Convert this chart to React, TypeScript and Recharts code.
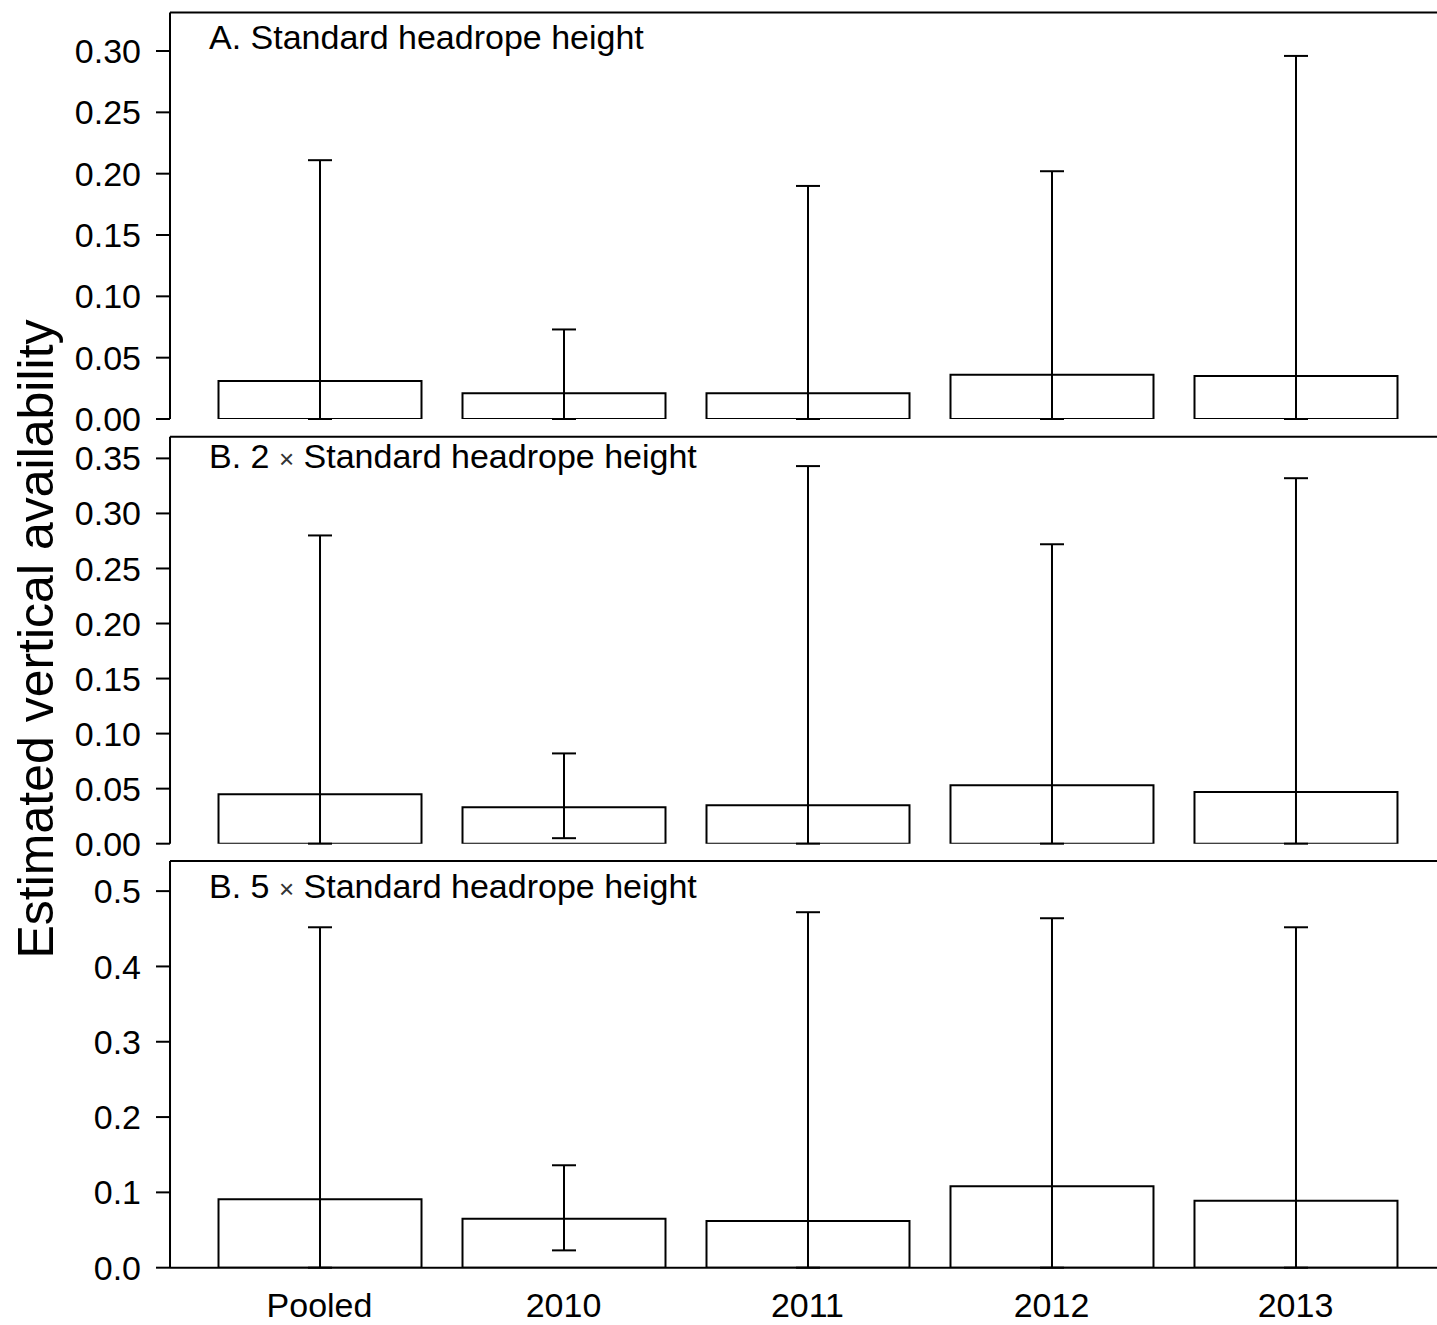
import React from 'react';
import { BarChart, Bar, XAxis, YAxis, ErrorBar, ReferenceLine } from 'recharts';

const categories = ['Pooled', '2010', '2011', '2012', '2013'];

const estA = [0.031, 0.021, 0.021, 0.036, 0.035];
const lowA = [0, 0, 0, 0, 0];
const highA = [0.211, 0.073, 0.19, 0.202, 0.296];

const estB = [0.045, 0.033, 0.035, 0.053, 0.047];
const lowB = [0, 0.005, 0, 0, 0];
const highB = [0.28, 0.082, 0.343, 0.272, 0.332];

const estC = [0.091, 0.065, 0.062, 0.108, 0.089];
const lowC = [0, 0.023, 0, 0, 0];
const highC = [0.452, 0.136, 0.472, 0.464, 0.452];

const ticksA = [0, 0.05, 0.1, 0.15, 0.2, 0.25, 0.3];
const ticksB = [0, 0.05, 0.1, 0.15, 0.2, 0.25, 0.3, 0.35];
const ticksC = [0, 0.1, 0.2, 0.3, 0.4, 0.5];

const titleA = 'A. Standard headrope height';
const titleB = ['B. 2', '×', 'Standard headrope height'];
const titleC = ['B. 5', '×', 'Standard headrope height'];
const yLabel = 'Estimated vertical availability';

const build = (est: number[], lo: number[], hi: number[]) =>
  categories.map((c, i) => ({ cat: c, v: est[i], e: [est[i] - lo[i], hi[i] - est[i]] }));

const FONT = '"Liberation Sans", Arial, sans-serif';
const INK = '#000';

type PanelProps = {
  data: any[];
  ticks: number[];
  max: number;
  digits: number;
  top: number;
  marginTop: number;
  height: number;
  showX: boolean;
};

const XTick = (props: any) => {
  const { x, y, payload } = props;
  return (
    <text x={x} y={y} dy="0.71em" textAnchor="middle" fontSize={34} fill={INK} fontFamily={FONT}>
      {payload.value}
    </text>
  );
};

const Panel = ({ data, ticks, max, digits, top, marginTop, height, showX }: PanelProps) => (
  <div style={{ position: 'absolute', left: 0, top }}>
    <BarChart
      width={1460}
      height={height}
      data={data}
      margin={{ top: marginTop, right: 15, bottom: showX ? 0 : 24, left: 0 }}
      style={{ overflow: 'visible' }}
    >
      <XAxis
        dataKey="cat"
        padding={{ left: 27.5, right: 27.5 }}
        axisLine={{ stroke: INK, strokeWidth: 2 }}
        tickLine={false}
        tickSize={0}
        tickMargin={25}
        height={showX ? 57 : 0}
        tick={showX ? <XTick /> : false}
        interval={0}
      />
      <YAxis
        width={170}
        domain={[0, max]}
        ticks={ticks}
        interval={0}
        allowDataOverflow
        tickFormatter={(v: number) => v.toFixed(digits)}
        axisLine={{ stroke: INK, strokeWidth: 2 }}
        tickLine={{ stroke: INK, strokeWidth: 2 }}
        tickSize={14}
        tickMargin={15}
        tick={{ fontSize: 34, fill: INK, fontFamily: FONT }}
      />
      <ReferenceLine y={max} stroke={INK} strokeWidth={2} ifOverflow="visible" />
      <Bar dataKey="v" fill="#fff" stroke={INK} strokeWidth={2} barSize={203} isAnimationActive={false}>
        <ErrorBar dataKey="e" width={12} stroke={INK} strokeWidth={2} direction="y" isAnimationActive={false} />
      </Bar>
    </BarChart>
  </div>
);

export default function App() {
  return (
    <div
      style={{
        position: 'absolute',
        left: 0,
        top: 0,
        width: 1437,
        height: 1325,
        overflow: 'hidden',
        background: '#fff',
        fontFamily: FONT,
      }}
    >
      <Panel data={build(estA, lowA, highA)} ticks={ticksA} max={0.3314} digits={2} top={0} marginTop={12.5} height={443} showX={false} />
      <Panel data={build(estB, lowB, highB)} ticks={ticksB} max={0.3697} digits={2} top={430} marginTop={6.7} height={437.7} showX={false} />
      <Panel data={build(estC, lowC, highC)} ticks={ticksC} max={0.54} digits={1} top={850} marginTop={11} height={474.7} showX={true} />
      <svg
        width={1437}
        height={1325}
        style={{ position: 'absolute', left: 0, top: 0, pointerEvents: 'none' }}
      >
        <text x={209} y={49} fontSize={34} fill={INK} fontFamily={FONT}>
          {titleA}
        </text>
        <text x={209} y={468} fontSize={34} fill={INK} fontFamily={FONT}>
          {titleB[0]} <tspan fontSize={26} fill="#333">{titleB[1]}</tspan> {titleB[2]}
        </text>
        <text x={209} y={898} fontSize={34} fill={INK} fontFamily={FONT}>
          {titleC[0]} <tspan fontSize={26} fill="#333">{titleC[1]}</tspan> {titleC[2]}
        </text>
        <text
          x={53}
          y={639}
          transform="rotate(-90 53 639)"
          textAnchor="middle"
          fontSize={50}
          fill={INK}
          fontFamily={FONT}
        >
          {yLabel}
        </text>
      </svg>
    </div>
  );
}
